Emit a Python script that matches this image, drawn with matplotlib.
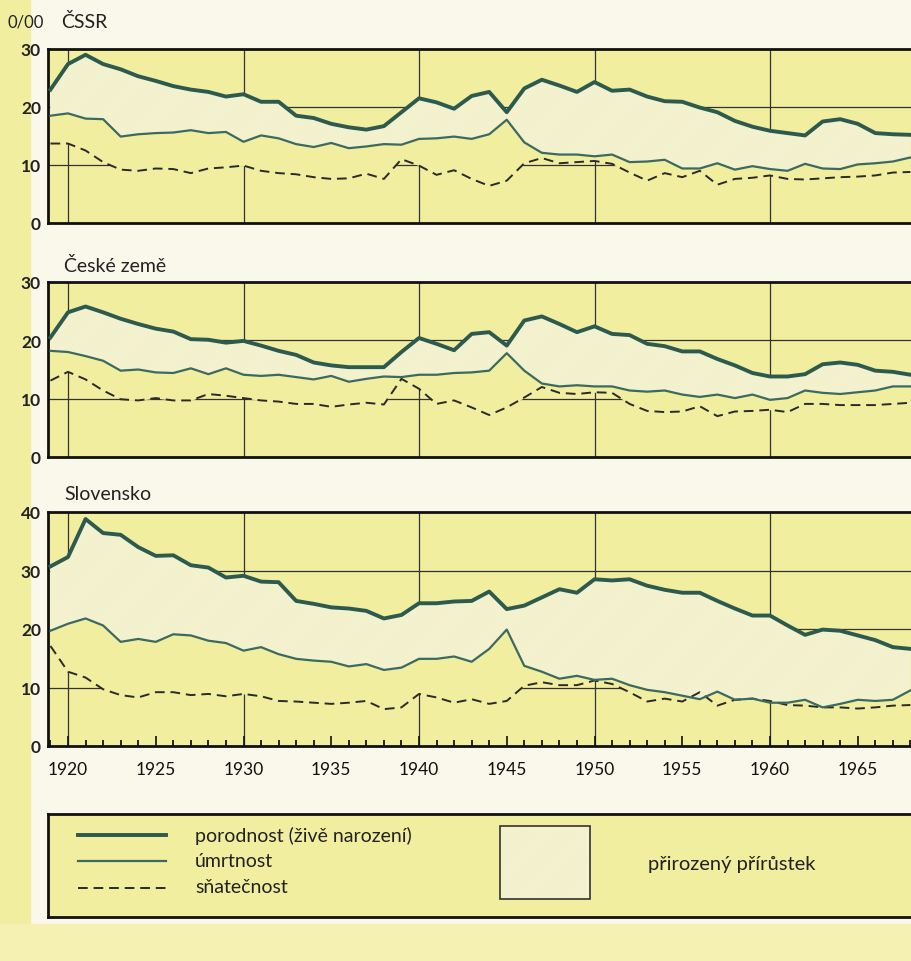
import matplotlib.pyplot as plt
from matplotlib.patches import Rectangle

plt.rcParams['font.family'] = ['Lato', 'DejaVu Sans']

years = list(range(1919, 1969))

# CSSR
cssr_birth = [23.0, 27.4, 29.0, 27.4, 26.5, 25.3, 24.5, 23.6, 23.0, 22.6,
              21.8, 22.2, 20.9, 20.9, 18.5, 18.1, 17.1, 16.5, 16.1, 16.7,
              19.1, 21.5, 20.8, 19.7, 21.9, 22.6, 19.1, 23.2, 24.7, 23.7,
              22.6, 24.3, 22.8, 23.0, 21.8, 21.0, 20.9, 19.9, 19.1, 17.6,
              16.6, 15.9, 15.5, 15.1, 17.5, 17.9, 17.1, 15.5, 15.3, 15.2]
cssr_death = [18.5, 18.9, 18.0, 17.9, 14.9, 15.3, 15.5, 15.6, 16.0, 15.5,
              15.7, 14.0, 15.1, 14.6, 13.6, 13.1, 13.8, 12.9, 13.2, 13.6,
              13.5, 14.5, 14.6, 14.9, 14.5, 15.3, 17.8, 13.9, 12.1, 11.8,
              11.8, 11.5, 11.8, 10.5, 10.6, 10.9, 9.4, 9.4, 10.3, 9.2,
              9.8, 9.3, 9.0, 10.2, 9.4, 9.3, 10.1, 10.3, 10.6, 11.3]
cssr_marr = [13.7, 13.7, 12.5, 10.5, 9.2, 9.0, 9.4, 9.3, 8.6, 9.4,
             9.6, 9.9, 9.0, 8.6, 8.4, 7.9, 7.6, 7.7, 8.5, 7.6,
             11.0, 9.9, 8.3, 9.1, 7.6, 6.4, 7.3, 10.3, 11.2, 10.3,
             10.5, 10.7, 10.2, 8.7, 7.3, 8.6, 7.9, 9.0, 6.6, 7.6,
             7.8, 8.2, 7.6, 7.5, 7.7, 7.9, 8.0, 8.2, 8.7, 8.8]

# Ceske zeme
cz_birth = [20.5, 24.8, 25.8, 24.8, 23.7, 22.8, 22.0, 21.5, 20.2, 20.1,
            19.6, 19.9, 19.1, 18.2, 17.5, 16.2, 15.7, 15.4, 15.4, 15.4,
            18.0, 20.4, 19.4, 18.3, 21.1, 21.4, 19.1, 23.4, 24.1, 22.8,
            21.4, 22.4, 21.1, 20.9, 19.4, 19.0, 18.1, 18.1, 16.8, 15.7,
            14.4, 13.8, 13.8, 14.2, 15.9, 16.2, 15.8, 14.8, 14.6, 14.1]
cz_death = [18.2, 18.0, 17.3, 16.5, 14.8, 15.0, 14.5, 14.4, 15.2, 14.2,
            15.2, 14.1, 13.9, 14.1, 13.7, 13.3, 13.9, 12.9, 13.4, 13.8,
            13.7, 14.1, 14.1, 14.4, 14.5, 14.8, 17.8, 14.8, 12.6, 12.1,
            12.3, 12.1, 12.1, 11.4, 11.2, 11.4, 10.7, 10.3, 10.7, 10.1,
            10.7, 9.8, 10.1, 11.4, 11.0, 10.8, 11.1, 11.4, 12.1, 12.1]
cz_marr = [13.1, 14.6, 13.3, 11.4, 9.9, 9.7, 10.1, 9.7, 9.7, 10.8,
           10.5, 10.1, 9.7, 9.5, 9.1, 9.1, 8.6, 9.0, 9.3, 9.0,
           13.4, 11.7, 9.1, 9.7, 8.5, 7.2, 8.5, 10.2, 12.0, 11.0,
           10.8, 11.1, 11.0, 9.1, 7.9, 7.7, 7.8, 8.7, 7.0, 7.8,
           7.9, 8.1, 7.7, 9.1, 9.1, 8.9, 8.9, 8.9, 9.1, 9.3]

# Slovensko
sk_birth = [30.7, 32.3, 38.8, 36.4, 36.1, 34.0, 32.5, 32.6, 30.9, 30.5,
            28.8, 29.1, 28.1, 28.0, 24.8, 24.3, 23.7, 23.5, 23.1, 21.8,
            22.4, 24.4, 24.4, 24.7, 24.8, 26.4, 23.4, 24.0, 25.4, 26.8,
            26.2, 28.5, 28.3, 28.5, 27.4, 26.7, 26.2, 26.2, 24.8, 23.5,
            22.3, 22.3, 20.6, 19.0, 19.9, 19.7, 18.9, 18.1, 16.9, 16.6]
sk_death = [19.7, 20.9, 21.8, 20.6, 17.8, 18.3, 17.8, 19.1, 18.9, 18.0,
            17.6, 16.3, 16.9, 15.7, 14.9, 14.6, 14.4, 13.6, 14.0, 13.0,
            13.4, 14.9, 14.9, 15.3, 14.4, 16.6, 19.9, 13.7, 12.7, 11.5,
            12.0, 11.3, 11.5, 10.4, 9.6, 9.2, 8.6, 8.0, 9.3, 7.9,
            8.1, 7.4, 7.4, 7.9, 6.6, 7.2, 7.9, 7.7, 7.9, 9.5]
sk_marr = [17.1, 12.7, 11.7, 9.7, 8.7, 8.3, 9.2, 9.2, 8.7, 8.9,
           8.5, 8.9, 8.5, 7.7, 7.6, 7.4, 7.2, 7.4, 7.7, 6.3,
           6.6, 8.9, 8.3, 7.4, 8.0, 7.2, 7.7, 10.3, 10.9, 10.4,
           10.4, 11.2, 10.6, 9.2, 7.6, 8.1, 7.6, 9.2, 6.9, 7.9,
           8.1, 7.7, 7.0, 6.9, 6.6, 6.6, 6.4, 6.6, 6.9, 7.0]

titles = ['ČSSR', 'České země', 'Slovensko']
legend_labels = ['porodnost (živě narození)', 'úmrtnost', 'sňatečnost']
area_label = 'přirozený přírůstek'

W, H = 911, 962
paper = '#f9f8ea'
yellow = '#f1ee9f'
birth_c = '#2d5a4f'
death_c = '#3b6a61'
marr_c = '#2a2a2a'
hatch_c = '#f0eec0'
area_c = '#fdfdf6'

plt.rcParams['hatch.linewidth'] = 0.7


def fx(px):
    return px / W


def fy(py):
    return 1 - py / H


fig = plt.figure(figsize=(W / 100, H / 100), dpi=100)
fig.patch.set_facecolor(paper)
fig.patches.append(Rectangle((0, 0), fx(30), 1, transform=fig.transFigure,
                             color=yellow, zorder=-5))
fig.patches.append(Rectangle((0, 0), 1, fy(925), transform=fig.transFigure,
                             color='#f4f1b2', zorder=-5))

x0 = 1920 - 20 / 17.55
x1 = 1920 + (W - 68) / 17.55

panels = [(cssr_birth, cssr_death, cssr_marr, 50, 224, 30),
          (cz_birth, cz_death, cz_marr, 283, 458, 30),
          (sk_birth, sk_death, sk_marr, 513, 747, 40)]

for i, (b, d, m, top, bot, ymax) in enumerate(panels):
    ax = fig.add_axes([fx(48), fy(bot), 1 - fx(48), (bot - top) / H])
    ax.set_facecolor(yellow)
    ax.set_xlim(x0, x1)
    ax.set_ylim(0, ymax)
    for yv in range(10, ymax, 10):
        ax.axhline(yv, color='#333333', lw=0.9, zorder=1)
    for xv in range(1920, 1961, 10):
        ax.axvline(xv, color='#333333', lw=0.9, zorder=1)
    # gridlines are hidden between the curves
    ax.fill_between(years, m, b, color=yellow, lw=0, zorder=1.5)
    ax.fill_between(years, d, b, facecolor=area_c, edgecolor=hatch_c,
                    hatch='/' * 18, lw=0, zorder=1.6)
    ax.plot(years, m, color=marr_c, lw=1.4, ls=(0, (5, 3)), zorder=3)
    ax.plot(years, d, color=death_c, lw=1.6, zorder=3)
    ax.plot(years, b, color=birth_c, lw=2.8, zorder=4)

    ax.set_yticks(range(0, ymax + 1, 10))
    ax.tick_params(axis='y', length=0, pad=5, labelsize=12.5)
    for lab in ax.get_yticklabels():
        lab.set_fontweight('bold')
        lab.set_color('#222222')
    for s in ['left', 'top', 'bottom']:
        ax.spines[s].set_linewidth(2)
        ax.spines[s].set_color('#111111')
    ax.spines['right'].set_visible(False)
    if i == 2:
        ax.set_xticks(range(1920, 1968, 5))
        ax.set_xticks(range(1919, 1969), minor=True)
        ax.tick_params(axis='x', which='major', direction='in', length=7,
                       width=1.2, pad=11, labelsize=12.5, colors='#111111')
        ax.tick_params(axis='x', which='minor', direction='in', length=4,
                       width=1.2)
    else:
        ax.set_xticks([])

fig.text(fx(8), fy(22), '0/00', fontsize=12, va='center', color='#222222')
fig.text(fx(61), fy(22), titles[0], fontsize=14, va='center', color='#222222')
fig.text(fx(64), fy(266), titles[1], fontsize=14, va='center', color='#222222')
fig.text(fx(64), fy(495), titles[2], fontsize=14, va='center', color='#222222')

# legend box
lg = fig.add_axes([fx(48), fy(918), 1 - fx(48), (918 - 815) / H])
lg.set_facecolor(yellow)
lg.set_xlim(48, W)
lg.set_ylim(918, 815)
lg.set_xticks([])
lg.set_yticks([])
for s in ['left', 'top', 'bottom']:
    lg.spines[s].set_linewidth(2)
    lg.spines[s].set_color('#111111')
lg.spines['right'].set_visible(False)

lg.plot([78, 166], [836, 836], color=birth_c, lw=2.8)
lg.plot([78, 166], [862, 862], color=death_c, lw=1.6)
lg.plot([78, 166], [889, 889], color=marr_c, lw=1.4, ls=(0, (5, 3)))
for yv, lab in zip([836, 862, 888], legend_labels):
    lg.text(195, yv, lab, fontsize=14, va='center', color='#222222')
lg.add_patch(Rectangle((500, 827), 90, 73, facecolor=area_c,
                       edgecolor=hatch_c, hatch='/' * 18, lw=0))
lg.add_patch(Rectangle((500, 827), 90, 73, facecolor='none',
                       edgecolor='#333333', lw=1.2))
lg.text(648, 865, area_label, fontsize=14.5, va='center', color='#222222')

fig.savefig('out.png', dpi=100, facecolor=fig.get_facecolor())
